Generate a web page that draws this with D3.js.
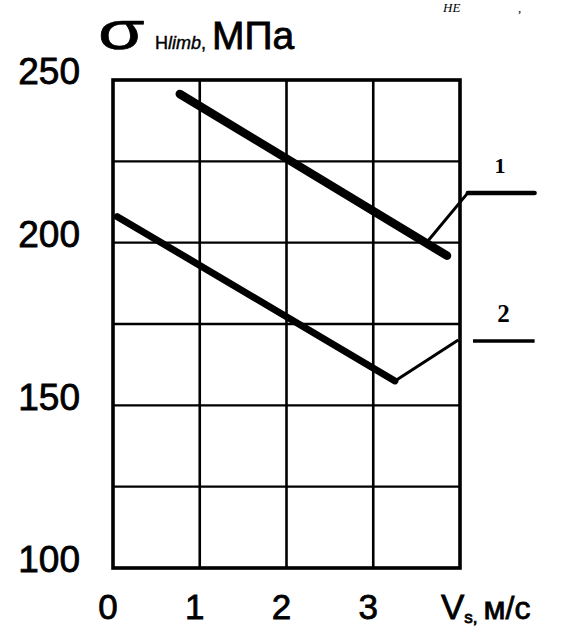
<!DOCTYPE html>
<html>
<head>
<meta charset="utf-8">
<script src="https://cdn.jsdelivr.net/npm/d3@7"></script>
<style>
  html, body { margin: 0; padding: 0; background: #fff; }
  svg { display: block; }
</style>
</head>
<body>
<div id="chart"></div>
<script>
// данные
const xTicks = [0, 1, 2, 3]
const yTicks = [100, 150, 200, 250]
const xGrid = [0, 1, 2, 3, 4]
const yGrid = [100, 125, 150, 175, 200, 225, 250]

// кривая 1 и кривая 2: скорость скольжения Vs, м/с -> σHlimb, МПа
const curve1 = [{ v: 0.77, s: 245.7 }, { v: 3.85, s: 196.0 }]
const curve2 = [{ v: 0.05, s: 208.0 }, { v: 3.25, s: 157.5 }]

// выноски к номерам кривых
const leader1 = [{ v: 3.62, s: 200.2 }, { v: 4.09, s: 215.3 }, { v: 4.86, s: 215.3 }]
const leader2 = [{ v: 3.25, s: 157.5 }, { v: 3.98, s: 170.1 }]
const mark2 = [{ v: 4.15, s: 169.8 }, { v: 4.86, s: 169.8 }]
const curveLabels = [
  { text: '1', v: 4.46, s: 221.4, size: 22 },
  { text: '2', v: 4.5, s: 175.6, size: 25 }
]

const width = 576
const height = 629

const x = d3.scaleLinear().domain([0, 4]).range([113, 460])
const y = d3.scaleLinear().domain([100, 250]).range([568, 80])

const svg = d3.select('#chart').append('svg')
  .attr('width', width)
  .attr('height', height)
  .style('font-family', '"Liberation Sans", Arial, sans-serif')

const line = d3.line().x((d) => x(d.v)).y((d) => y(d.s))

// сетка
svg.append('g')
  .attr('stroke', '#000')
  .attr('stroke-width', 2.6)
  .selectAll('line')
  .data(xGrid.slice(1, -1))
  .join('line')
  .attr('x1', (d) => x(d)).attr('x2', (d) => x(d))
  .attr('y1', y(250)).attr('y2', y(100))

svg.append('g')
  .attr('stroke', '#000')
  .attr('stroke-width', 2.4)
  .selectAll('line')
  .data(yGrid.slice(1, -1))
  .join('line')
  .attr('y1', (d) => y(d)).attr('y2', (d) => y(d))
  .attr('x1', x(0)).attr('x2', x(4))

// рамка
svg.append('rect')
  .attr('x', x(0)).attr('y', y(250))
  .attr('width', x(4) - x(0)).attr('height', y(100) - y(250))
  .attr('fill', 'none')
  .attr('stroke', '#000')
  .attr('stroke-width', 3.6)

// подписи осей
svg.append('g')
  .selectAll('text')
  .data(yTicks)
  .join('text')
  .attr('x', 80)
  .attr('y', (d) => y(d) - 9)
  .attr('dy', '0.36em')
  .attr('text-anchor', 'end')
  .attr('font-size', 37)
  .attr('stroke', '#000').attr('stroke-width', 0.8)
  .text((d) => d)

svg.append('g')
  .selectAll('text')
  .data(xTicks)
  .join('text')
  .attr('x', (d) => x(d) - 5)
  .attr('y', 619)
  .attr('text-anchor', 'middle')
  .attr('font-size', 35)
  .attr('stroke', '#000').attr('stroke-width', 0.8)
  .text((d) => d)

// Vs, м/с
const xt = svg.append('text')
  .attr('x', 441).attr('y', 619)
  .attr('font-size', 35)
  .attr('stroke', '#000').attr('stroke-width', 0.8)
xt.append('tspan').text('V')
xt.append('tspan').attr('font-size', 17).attr('dy', 4).text('s,')
xt.append('tspan').attr('dy', -4).attr('dx', 6).attr('font-size', 32).text('м/с')

// σHlimb, МПа
svg.append('text')
  .attr('transform', 'translate(98,49) scale(1.45,1)')
  .attr('font-size', 52)
  .attr('stroke', '#000').attr('stroke-width', 0.6)
  .text('σ')

const yt = svg.append('text')
  .attr('x', 155).attr('y', 49)
  .attr('stroke', '#000').attr('stroke-width', 0.4)
yt.append('tspan').attr('font-size', 18).text('H')
yt.append('tspan').attr('font-size', 18).attr('font-style', 'italic').text('limb')
yt.append('tspan').attr('font-size', 18).text(',')
yt.append('tspan').attr('font-size', 39).attr('dx', 6).attr('stroke-width', 0.8).text('МПа')

// обрывок строки сверху
svg.append('text')
  .attr('x', 443).attr('y', 12)
  .attr('font-family', '"Liberation Serif", serif')
  .attr('font-style', 'italic')
  .attr('font-size', 13)
  .text('HE')
svg.append('text')
  .attr('x', 518).attr('y', 12)
  .attr('font-family', '"Liberation Serif", serif')
  .attr('font-size', 13)
  .text(',')

// кривые
svg.append('path')
  .datum(curve1)
  .attr('d', line)
  .attr('fill', 'none')
  .attr('stroke', '#000')
  .attr('stroke-width', 8.5)
  .attr('stroke-linecap', 'round')

svg.append('path')
  .datum(curve2)
  .attr('d', line)
  .attr('fill', 'none')
  .attr('stroke', '#000')
  .attr('stroke-width', 7)
  .attr('stroke-linecap', 'round')

// выноски
svg.append('path')
  .datum(leader1)
  .attr('d', line)
  .attr('fill', 'none')
  .attr('stroke', '#000')
  .attr('stroke-width', 3)

svg.append('path')
  .datum(leader1.slice(1))
  .attr('d', line)
  .attr('fill', 'none')
  .attr('stroke', '#000')
  .attr('stroke-width', 4.5)
  .attr('stroke-linecap', 'round')

svg.append('path')
  .datum(leader2)
  .attr('d', line)
  .attr('fill', 'none')
  .attr('stroke', '#000')
  .attr('stroke-width', 3)

svg.append('path')
  .datum(mark2)
  .attr('d', line)
  .attr('fill', 'none')
  .attr('stroke', '#000')
  .attr('stroke-width', 3.5)

svg.append('g')
  .selectAll('text')
  .data(curveLabels)
  .join('text')
  .attr('x', (d) => x(d.v))
  .attr('y', (d) => y(d.s))
  .attr('text-anchor', 'middle')
  .attr('font-family', '"Liberation Serif", serif')
  .attr('font-weight', 'bold')
  .attr('font-size', (d) => d.size)
  .text((d) => d.text)
</script>
</body>
</html>
